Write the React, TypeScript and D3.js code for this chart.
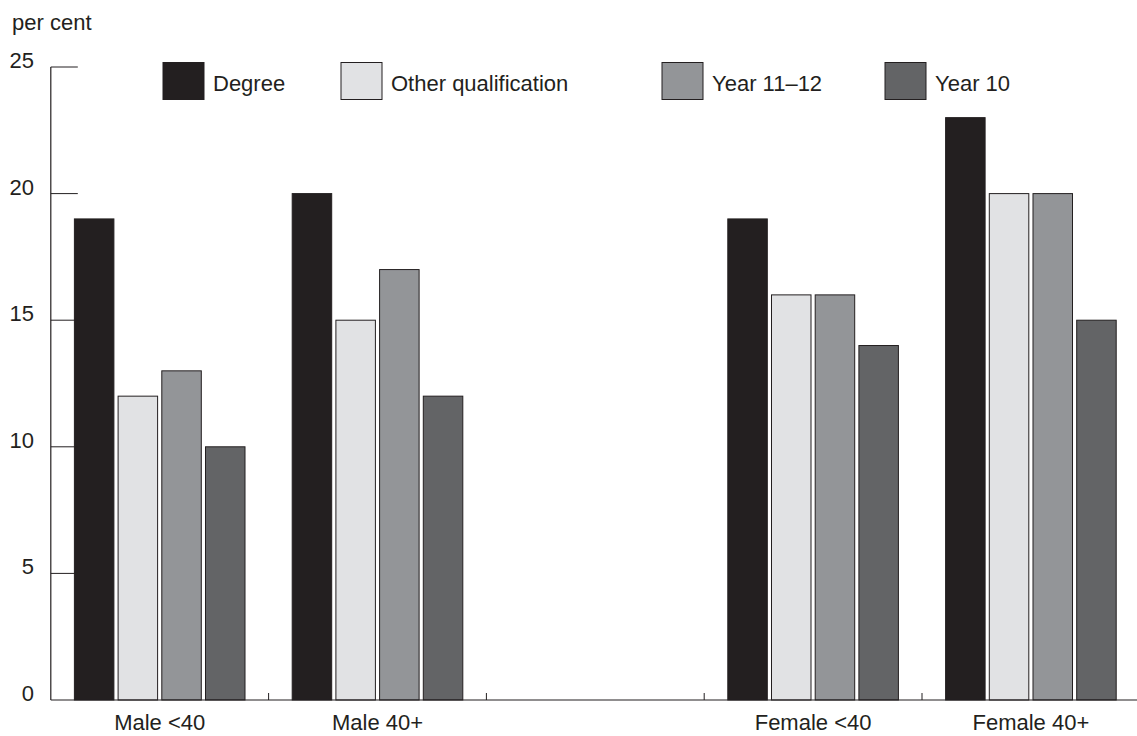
import React from "react";
import * as d3 from "d3";

const slots = ["Male <40", "Male 40+", "", "Female <40", "Female 40+"];
const groups = ["Male <40", "Male 40+", "Female <40", "Female 40+"];
const seriesNames = ["Degree", "Other qualification", "Year 11\u201312", "Year 10"];
const degree = [19, 20, 19, 23];
const otherQual = [12, 15, 16, 20];
const year1112 = [13, 17, 16, 20];
const year10 = [10, 12, 14, 15];
const yTicks = [0, 5, 10, 15, 20, 25];

const seriesValues = [degree, otherQual, year1112, year10];
const colors = ["#231f20", "#e1e2e4", "#939598", "#636466"];
const legendX = [163, 341, 662, 885];

const W = 1137;
const H = 736;
const X0 = 50.8;
const SLOT = 217.8;
const Y0 = 700;
const Y1 = 67;
const TEXT = "#231f20";
const FONT = "'Liberation Sans', Arial, Helvetica, sans-serif";

export default function App() {
  const x = d3.scaleBand<string>().domain(slots.map((s, i) => String(i))).range([X0, X0 + SLOT * slots.length]).paddingInner(0).paddingOuter(0);
  const xi = d3.scaleBand<string>().domain(seriesNames).range([0, x.bandwidth()]).paddingInner(0.096).paddingOuter(0.54);
  const y = d3.scaleLinear().domain([0, 25]).range([Y0, Y1]);

  const slotIndex = (g: string) => String(slots.indexOf(g));

  return (
    <svg width={W} height={H} style={{ position: "absolute", left: 0, top: 0, background: "#fff" }} fontFamily={FONT}>
      <text x={12} y={30} fontSize={22} fill={TEXT}>per cent</text>
      {/* bars */}
      {seriesNames.map((s, si) =>
        groups.map((g, gi) => {
          const v = seriesValues[si][gi];
          const bx = (x(slotIndex(g)) as number) + (xi(s) as number);
          return (
            <rect key={s + g} x={bx} y={y(v)} width={xi.bandwidth()} height={Y0 - y(v)} fill={colors[si]} stroke="#231f20" strokeWidth={1} />
          );
        })
      )}
      {/* y axis */}
      <line x1={X0} x2={X0} y1={y(25)} y2={Y0} stroke={TEXT} strokeWidth={1.2} />
      {yTicks.map((t) => (
        <g key={t}>
          {t > 0 && <line x1={X0} x2={X0 + 27} y1={y(t)} y2={y(t)} stroke={TEXT} strokeWidth={1} />}
          <text x={34} y={y(t) + 1} fontSize={22} fill={TEXT} textAnchor="end">{t}</text>
        </g>
      ))}
      {/* x axis */}
      <line x1={X0} x2={X0 + SLOT * slots.length} y1={Y0} y2={Y0} stroke={TEXT} strokeWidth={1.2} />
      {slots.slice(1).map((s, i) => {
        const bx = x(String(i + 1)) as number;
        return <line key={"sep" + i} x1={bx} x2={bx} y1={Y0} y2={Y0 - 7} stroke={TEXT} strokeWidth={1} />;
      })}
      {slots.map((s, i) =>
        s ? (
          <text key={"lab" + i} x={(x(String(i)) as number) + x.bandwidth() / 2} y={730} fontSize={22} fill={TEXT} textAnchor="middle">{s}</text>
        ) : null
      )}
      {/* legend */}
      {seriesNames.map((s, si) => (
        <g key={"leg" + s}>
          <rect x={legendX[si]} y={62.5} width={41} height={37} fill={colors[si]} stroke="#231f20" strokeWidth={1} />
          <text x={legendX[si] + 50} y={91} fontSize={22} fill={TEXT}>{s}</text>
        </g>
      ))}
    </svg>
  );
}
